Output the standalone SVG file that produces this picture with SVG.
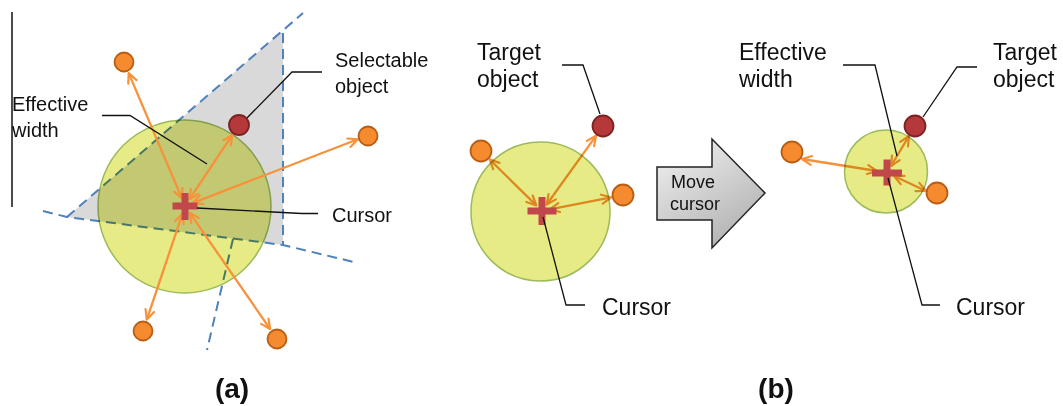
<svg xmlns="http://www.w3.org/2000/svg" width="1063" height="406" viewBox="0 0 1063 406">
  <style>
    text { font-family: "Liberation Sans", Arial, sans-serif; fill: #111; }
    .la { font-size: 20px; }
    .lb { font-size: 23px; }
    .cap { font-size: 28px; font-weight: bold; }
    .zone { fill: #D9D9D9; }
    .dash { fill: none; stroke: #4F81BD; stroke-width: 2; stroke-dasharray: 10 6; }
    .area { fill: #E6EB86; stroke: #9BBB59; stroke-width: 1.5; mix-blend-mode: multiply; }
    .ray { fill: none; stroke: #F7923A; stroke-width: 2.3; marker-start: url(#tip); marker-end: url(#tip); }
    .dot { fill: #F68A2E; stroke: #B85E15; stroke-width: 1.8; }
    .goal { fill: #B5393A; stroke: #7D2222; stroke-width: 1.8; }
    .cross { fill: #C0484A; }
    .lead { fill: none; stroke: #111; stroke-width: 1.3; }
  </style>
  <defs>
    <marker id="tip" viewBox="0 0 12 12" refX="11" refY="6" markerWidth="12" markerHeight="12" markerUnits="userSpaceOnUse" orient="auto-start-reverse">
      <path d="M1.5,1.5 L11,6 L1.5,10.5" fill="none" stroke="#F7923A" stroke-width="2.2" stroke-linecap="round" stroke-linejoin="round"/>
    </marker>
    <linearGradient id="moveFill" x1="0" y1="0" x2="0.6" y2="1">
      <stop offset="0" stop-color="#F4F4F4"/>
      <stop offset="1" stop-color="#B3B3B3"/>
    </linearGradient>
  </defs>

  <rect width="1063" height="406" fill="#fff"/>

  <!-- panel (a): Voronoi-style region of the selectable object -->
  <g id="panel-a-region">
    <polygon class="zone" points="67,217 280,33 283,33 283,245"/>
    <path class="dash" d="M67,217 L303,13"/>
    <path class="dash" d="M283,33 L283,245"/>
    <path class="dash" d="M43,211 L67,217 L283,245 L358,263"/>
    <path class="dash" d="M233,239 L207,350"/>
  </g>

  <g id="panel-a-area">
    <circle class="area" cx="184.5" cy="206.5" r="86.5"/>
  </g>

  <line id="panel-a-rule" x1="12" y1="12" x2="12" y2="207" stroke="#111" stroke-width="1.5"/>

  <g id="connectors">
    <!-- panel (a) -->
    <line class="ray" x1="182" y1="198.6" x2="128.7" y2="73.1"/>
    <line class="ray" x1="189.4" y1="199.3" x2="232.3" y2="135"/>
    <line class="ray" x1="192.5" y1="203.1" x2="357.8" y2="139.3"/>
    <line class="ray" x1="182.5" y1="213.6" x2="146.8" y2="319.6"/>
    <line class="ray" x1="189.6" y1="212.6" x2="270.2" y2="329.1"/>
    <!-- panel (b), before the move -->
    <line class="ray" x1="536.3" y1="205.4" x2="489.6" y2="159.4"/>
    <line class="ray" x1="546.7" y1="204.5" x2="596" y2="135.8"/>
    <line class="ray" x1="549.8" y1="209.4" x2="611.2" y2="197.3"/>
    <!-- panel (b), after the move -->
    <line class="ray" x1="877" y1="171" x2="802" y2="159"/>
    <line class="ray" x1="891" y1="166" x2="909" y2="136"/>
    <line class="ray" x1="894" y1="176" x2="926" y2="191"/>
  </g>

  <!-- panel (a) objects -->
  <g id="a-dot-nw"><circle class="dot" cx="124" cy="62" r="9.5"/></g>
  <g id="a-selectable"><circle class="goal" cx="239" cy="125" r="10"/></g>
  <g id="a-dot-e"><circle class="dot" cx="368" cy="136" r="9.5"/></g>
  <g id="a-dot-sw"><circle class="dot" cx="143" cy="331" r="9.5"/></g>
  <g id="a-dot-se"><circle class="dot" cx="277" cy="339" r="9.5"/></g>
  <g id="a-cursor">
    <rect class="cross" x="172.5" y="202.5" width="25" height="7"/>
    <rect class="cross" x="181.5" y="193" width="7" height="27"/>
  </g>

  <!-- panel (a) labels -->
  <g id="a-label-width">
    <path class="lead" d="M102,115.5 L130,115.5 L207,164"/>
    <text class="la" x="12" y="111">Effective</text>
    <text class="la" x="12" y="137">width</text>
  </g>
  <g id="a-label-selectable">
    <path class="lead" d="M322,72 L292,72 L247,118"/>
    <text class="la" x="335" y="67">Selectable</text>
    <text class="la" x="335" y="93">object</text>
  </g>
  <g id="a-label-cursor">
    <path class="lead" d="M197,208 L302,213.5 L318,213.5"/>
    <text class="la" x="332" y="222">Cursor</text>
  </g>

  <!-- panel (b), before the move -->
  <g id="b1-area"><circle class="area" cx="540.5" cy="211.5" r="69.5"/></g>
  <g id="b1-dot-w"><circle class="dot" cx="481" cy="151" r="10.5"/></g>
  <g id="b1-target"><circle class="goal" cx="603" cy="126" r="10.5"/></g>
  <g id="b1-dot-e"><circle class="dot" cx="623" cy="195" r="10.5"/></g>
  <g id="b1-cursor">
    <rect class="cross" x="527.5" y="207.5" width="29" height="7"/>
    <rect class="cross" x="538.5" y="197" width="7" height="28"/>
  </g>
  <g id="b1-label-target">
    <path class="lead" d="M562,65 L583,65 L600,114"/>
    <text class="lb" x="477" y="60">Target</text>
    <text class="lb" x="477" y="87">object</text>
  </g>
  <g id="b1-label-cursor">
    <path class="lead" d="M543,217 L566,305 L585,305"/>
    <text class="lb" x="602" y="315">Cursor</text>
  </g>

  <!-- block arrow between the two states -->
  <g id="move-cursor">
    <polygon points="657,167 712,167 712,139 765,193 712,248 712,220 657,220" fill="url(#moveFill)" stroke="#222" stroke-width="1.5" stroke-linejoin="miter"/>
    <text x="671" y="188" font-size="18">Move</text>
    <text x="670" y="210" font-size="18">cursor</text>
  </g>

  <!-- panel (b), after the move -->
  <g id="b2-area"><circle class="area" cx="886" cy="171.5" r="41.5"/></g>
  <g id="b2-dot-w"><circle class="dot" cx="792" cy="152" r="10.5"/></g>
  <g id="b2-target"><circle class="goal" cx="915" cy="126" r="10.5"/></g>
  <g id="b2-dot-e"><circle class="dot" cx="937" cy="193" r="10.5"/></g>
  <g id="b2-cursor">
    <rect class="cross" x="872" y="169.5" width="30" height="7"/>
    <rect class="cross" x="883.5" y="159.5" width="7" height="26"/>
  </g>
  <g id="b2-label-width">
    <path class="lead" d="M843,65 L875,65 L897,156"/>
    <text class="lb" x="739" y="60">Effective</text>
    <text class="lb" x="739" y="87">width</text>
  </g>
  <g id="b2-label-target">
    <path class="lead" d="M977,67 L957,67 L923,117"/>
    <text class="lb" x="993" y="60">Target</text>
    <text class="lb" x="993" y="87">object</text>
  </g>
  <g id="b2-label-cursor">
    <path class="lead" d="M888,178 L922,305 L940,305"/>
    <text class="lb" x="956" y="315">Cursor</text>
  </g>

  <!-- sub-figure captions -->
  <text class="cap" x="232" y="398" text-anchor="middle">(a)</text>
  <text class="cap" x="776" y="398" text-anchor="middle">(b)</text>
</svg>
